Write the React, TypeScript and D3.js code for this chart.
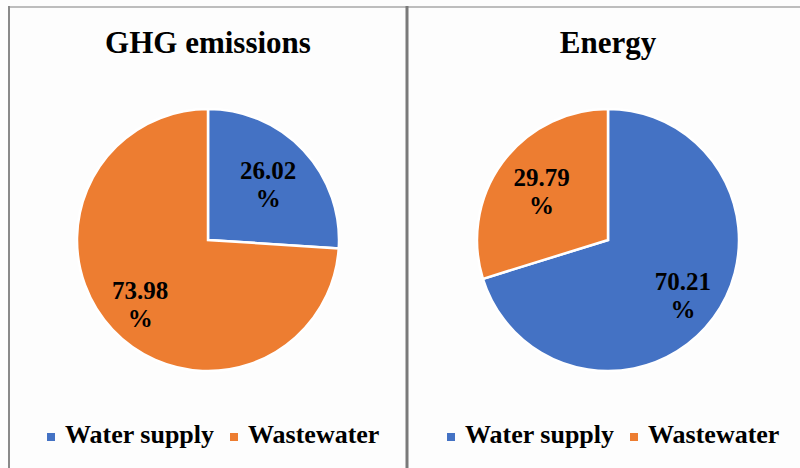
import React, { useRef, useEffect } from 'react';
import * as d3 from 'd3';

const categories = ['Water supply', 'Wastewater'];
const ghgValues = [26.02, 73.98];
const energyValues = [70.21, 29.79];
const panelTitles = ['GHG emissions', 'Energy'];
const colors = ['#4472C4', '#ED7D31'];

const App = () => {
  const ref = useRef<SVGSVGElement>(null);

  useEffect(() => {
    const svg = d3.select(ref.current);
    svg.selectAll('*').remove();
    const width = 800;
    const height = 468;

    svg.append('rect').attr('width', width).attr('height', height).attr('fill', '#fdfdfd');

    // borders
    svg.append('line').attr('x1', 8).attr('x2', width).attr('y1', 7).attr('y2', 7)
      .attr('stroke', '#bdbdbd').attr('stroke-width', 2);
    svg.append('line').attr('x1', 9).attr('x2', 9).attr('y1', 6).attr('y2', height)
      .attr('stroke', '#8a8a8a').attr('stroke-width', 2);
    svg.append('line').attr('x1', 407).attr('x2', 407).attr('y1', 6).attr('y2', height)
      .attr('stroke', '#7a7a7a').attr('stroke-width', 3);

    const font = "'Liberation Serif', 'Times New Roman', 'DejaVu Serif', serif";
    const pie = d3.pie<number>().sort(null).value(d => d);
    const radius = 131;
    const arc = d3.arc<d3.PieArcDatum<number>>().innerRadius(0).outerRadius(radius);

    const panels = [ghgValues, energyValues];
    panels.forEach((values, p) => {
      const cx = 208 + p * 400;
      const g = svg.append('g').attr('transform', `translate(${cx},240)`);
      const arcs = pie(values);
      g.selectAll('path').data(arcs).enter().append('path')
        .attr('d', arc)
        .attr('fill', (_, i) => colors[i])
        .attr('stroke', '#ffffff')
        .attr('stroke-width', 2.5);

      // data labels: value on one line, "%" below
      arcs.forEach(a => {
        const lr = a.data > 50 ? radius * 0.71 : radius * 0.63;
        const [lx, ly] = d3.arc<d3.PieArcDatum<number>>().innerRadius(lr).outerRadius(lr).centroid(a);
        const t = g.append('text')
          .attr('x', lx).attr('y', ly)
          .attr('text-anchor', 'middle')
          .style('font-family', font).style('font-weight', 'bold').style('font-size', '25px')
          .attr('fill', '#000');
        t.append('tspan').attr('x', lx).attr('dy', -5).text(a.data.toFixed(2));
        t.append('tspan').attr('x', lx).attr('dy', 28).text('%');
      });

      svg.append('text')
        .attr('x', cx).attr('y', 53)
        .attr('text-anchor', 'middle')
        .style('font-family', font).style('font-weight', 'bold').style('font-size', '31px')
        .attr('fill', '#000')
        .text(panelTitles[p]);

      const legendX = [47, 230];
      categories.forEach((c, i) => {
        const lx = legendX[i] + p * 400;
        svg.append('rect').attr('x', lx).attr('y', 433).attr('width', 8).attr('height', 8)
          .attr('fill', colors[i]);
        svg.append('text')
          .attr('x', lx + 18).attr('y', 443)
          .style('font-family', font).style('font-weight', 'bold').style('font-size', '26px')
          .attr('fill', '#000')
          .text(c);
      });
    });
  }, []);

  return <svg ref={ref} width="800" height="468" style={{ position: 'absolute', left: 0, top: 0 }}></svg>;
};

export default App;
